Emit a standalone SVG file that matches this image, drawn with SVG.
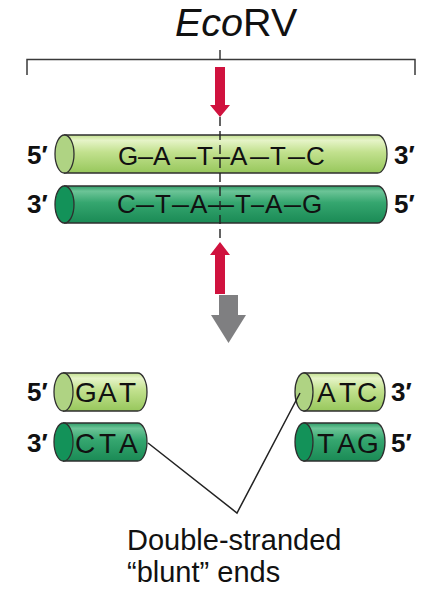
<svg xmlns="http://www.w3.org/2000/svg" width="429" height="595" viewBox="0 0 429 595">
  <style>
    text { font-family: "Liberation Sans", Arial, sans-serif; fill: #111; }
    .end { font-weight: bold; font-size: 26px; }
    .seq { font-size: 26px; }
    .frag { font-size: 28px; }
    .outline { stroke: #2f2f2f; stroke-width: 1.3; }
    .light-body { fill: url(#lightGrad); }
    .light-face { fill: #afd383; }
    .dark-body { fill: url(#darkGrad); }
    .dark-face { fill: #139259; }
    .rule { fill: none; stroke: #3a3a3a; stroke-width: 1.5; }
    .red { fill: #d0123e; }
  </style>
  <defs>
    <linearGradient id="lightGrad" x1="0" y1="0" x2="0" y2="1">
      <stop offset="0" stop-color="#c3e08f"/>
      <stop offset="0.14" stop-color="#e6f4c8"/>
      <stop offset="0.45" stop-color="#c2e18e"/>
      <stop offset="1" stop-color="#97c75c"/>
    </linearGradient>
    <linearGradient id="darkGrad" x1="0" y1="0" x2="0" y2="1">
      <stop offset="0" stop-color="#2f9d68"/>
      <stop offset="0.14" stop-color="#6cc497"/>
      <stop offset="0.45" stop-color="#35a66f"/>
      <stop offset="1" stop-color="#1a8a55"/>
    </linearGradient>
  </defs>

  <!-- enzyme name -->
  <g id="title">
    <text x="175" y="36" font-size="39.5"><tspan font-style="italic">Eco</tspan>RV</text>
  </g>

  <!-- recognition-site bracket -->
  <g id="bracket">
    <path class="rule" d="M27,75 V59.5 H415 V75 M220,50 V59.5"/>
  </g>

  <!-- top (5'->3') strand -->
  <g id="strand-top">
    <path class="outline light-body" d="M64.5,135 H377.5 A9.5,19 0 0 1 377.5,173 H64.5 Z"/>
    <ellipse class="outline light-face" cx="64.5" cy="154" rx="9.5" ry="19"/>
    <text class="seq" y="165"><tspan x="118">G</tspan><tspan x="138" textLength="15" lengthAdjust="spacingAndGlyphs">–</tspan><tspan x="153">A</tspan><tspan x="175" textLength="21" lengthAdjust="spacingAndGlyphs">–</tspan><tspan x="197">T</tspan><tspan x="213" textLength="17" lengthAdjust="spacingAndGlyphs">–</tspan><tspan x="230">A</tspan><tspan x="250" textLength="19" lengthAdjust="spacingAndGlyphs">–</tspan><tspan x="270">T</tspan><tspan x="288" textLength="17" lengthAdjust="spacingAndGlyphs">–</tspan><tspan x="306">C</tspan></text>
    <text class="end" x="27" y="164">5′</text>
    <text class="end" x="394" y="164">3′</text>
  </g>

  <!-- bottom (3'->5') strand -->
  <g id="strand-bottom">
    <path class="outline dark-body" d="M64.5,186 H377.5 A9.5,18.5 0 0 1 377.5,223 H64.5 Z"/>
    <ellipse class="outline dark-face" cx="64.5" cy="204.5" rx="9.5" ry="18.5"/>
    <text class="seq" y="213"><tspan x="117">C</tspan><tspan x="136" textLength="18" lengthAdjust="spacingAndGlyphs">–</tspan><tspan x="155">T</tspan><tspan x="172" textLength="17" lengthAdjust="spacingAndGlyphs">–</tspan><tspan x="190">A</tspan><tspan x="208" textLength="26" lengthAdjust="spacingAndGlyphs">–</tspan><tspan x="235">T</tspan><tspan x="251" textLength="13" lengthAdjust="spacingAndGlyphs">–</tspan><tspan x="265">A</tspan><tspan x="284" textLength="17" lengthAdjust="spacingAndGlyphs">–</tspan><tspan x="302">G</tspan></text>
    <text class="end" x="27" y="213">3′</text>
    <text class="end" x="394" y="213">5′</text>
  </g>

  <!-- cleavage line and cut arrows -->
  <g id="cut">
    <line x1="220" y1="117" x2="220" y2="243" stroke="#222" stroke-width="1.4" stroke-dasharray="9 5"/>
    <polygon class="red" points="215,67 225,67 225,105 230,105 220,117 210,105 215,105"/>
    <polygon class="red" points="220,242 230,255 225,255 225,294 215,294 215,255 210,255"/>
  </g>

  <!-- process arrow -->
  <g id="step-arrow">
    <polygon fill="#7f7f81" points="219,295 238,295 238,315 246,315 228.5,343 211,315 219,315"/>
  </g>

  <!-- left fragment -->
  <g id="frag-gat">
    <path class="outline light-body" d="M63.5,373 H137.5 A9.5,19 0 0 1 137.5,411 H63.5 Z"/>
    <ellipse class="outline light-face" cx="63.5" cy="392" rx="9.5" ry="19"/>
    <text class="frag" y="402" x="75 98 119">GAT</text>
    <text class="end" x="27" y="401">5′</text>
  </g>
  <g id="frag-cta">
    <path class="outline dark-body" d="M63.5,423 H137.5 A9.5,19 0 0 1 137.5,461 H63.5 Z"/>
    <ellipse class="outline dark-face" cx="63.5" cy="442" rx="9.5" ry="19"/>
    <text class="frag" y="453" x="75 99 119">CTA</text>
    <text class="end" x="27" y="452">3′</text>
  </g>

  <!-- right fragment -->
  <g id="frag-atc">
    <path class="outline light-body" d="M304,373 H376 A9,19 0 0 1 376,411 H304 Z"/>
    <ellipse class="outline light-face" cx="304" cy="392" rx="9" ry="19"/>
    <text class="frag" y="402" x="317 339 357">ATC</text>
    <text class="end" x="391" y="401">3′</text>
  </g>
  <g id="frag-tag">
    <path class="outline dark-body" d="M304,423 H376 A9,19 0 0 1 376,461 H304 Z"/>
    <ellipse class="outline dark-face" cx="304" cy="442" rx="9" ry="19"/>
    <text class="frag" y="453" x="317 337 357">TAG</text>
    <text class="end" x="391" y="452">5′</text>
  </g>

  <!-- leader lines to the blunt ends -->
  <g id="connectors">
    <polyline points="148,443 237,513 300,393" fill="none" stroke="#222" stroke-width="1.5"/>
  </g>

  <g id="caption">
    <text x="127" y="550" font-size="29">Double-stranded</text>
    <text x="127" y="582" font-size="29">“blunt” ends</text>
  </g>
</svg>
